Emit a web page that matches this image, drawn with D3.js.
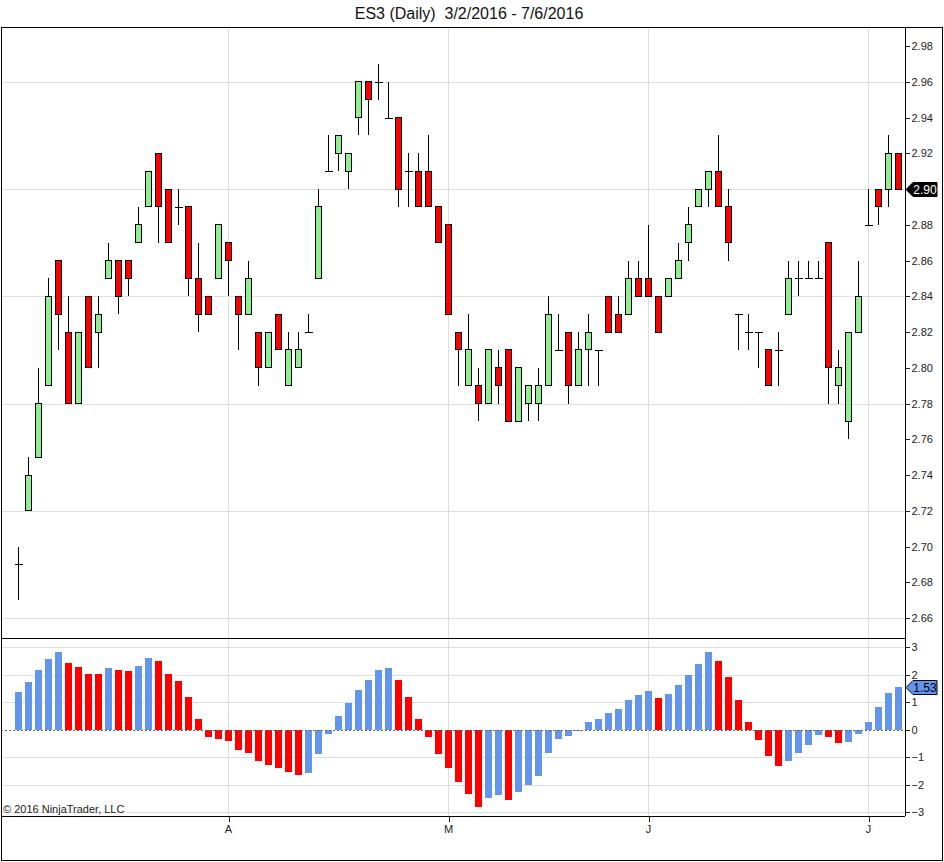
<!DOCTYPE html>
<html>
<head>
<meta charset="utf-8">
<script src="https://cdn.jsdelivr.net/npm/d3@7"></script>
<style>
  body { margin: 0; background: #fff; }
  svg { display: block; font-family: Arial, "Liberation Sans", sans-serif; }
</style>
</head>
<body>
<div id="chart"></div>
<script>
// daily candles, 3/2/2016 - 7/6/2016
const opens = [
  2.69, 2.72, 2.75, 2.79, 2.86, 2.82, 2.78, 2.84, 2.82, 2.85,
  2.86, 2.86, 2.87, 2.89, 2.92, 2.90, 2.89, 2.89, 2.85, 2.84,
  2.85, 2.87, 2.84, 2.83, 2.82, 2.80, 2.83, 2.79, 2.80, 2.82,
  2.85, 2.91, 2.92, 2.91, 2.94, 2.96, 2.96, 2.94, 2.94, 2.91,
  2.91, 2.91, 2.89, 2.88, 2.82, 2.79, 2.79, 2.78, 2.80, 2.81,
  2.77, 2.78, 2.78, 2.79, 2.81, 2.82, 2.79, 2.81, 2.81, 2.84,
  2.83, 2.83, 2.85, 2.85, 2.84, 2.84, 2.85, 2.87, 2.89, 2.90,
  2.91, 2.89, 2.83, 2.82, 2.82, 2.81, 2.81, 2.83, 2.85, 2.85,
  2.85, 2.87, 2.79, 2.77, 2.82, 2.88, 2.90, 2.90, 2.92
]
const highs = [
  2.70, 2.75, 2.80, 2.85, 2.86, 2.84, 2.82, 2.84, 2.84, 2.87,
  2.86, 2.86, 2.89, 2.91, 2.92, 2.90, 2.90, 2.89, 2.87, 2.84,
  2.88, 2.87, 2.84, 2.86, 2.82, 2.82, 2.83, 2.82, 2.82, 2.83,
  2.90, 2.93, 2.93, 2.92, 2.96, 2.96, 2.97, 2.96, 2.94, 2.92,
  2.92, 2.93, 2.89, 2.88, 2.82, 2.83, 2.80, 2.81, 2.81, 2.81,
  2.80, 2.79, 2.80, 2.84, 2.83, 2.82, 2.82, 2.83, 2.81, 2.84,
  2.84, 2.86, 2.86, 2.88, 2.84, 2.85, 2.87, 2.89, 2.90, 2.91,
  2.93, 2.90, 2.83, 2.83, 2.82, 2.81, 2.82, 2.86, 2.86, 2.86,
  2.86, 2.87, 2.81, 2.82, 2.86, 2.90, 2.90, 2.93, 2.92
]
const lows = [
  2.67, 2.72, 2.75, 2.79, 2.81, 2.78, 2.78, 2.80, 2.80, 2.85,
  2.83, 2.84, 2.87, 2.89, 2.87, 2.87, 2.88, 2.84, 2.82, 2.83,
  2.85, 2.84, 2.81, 2.83, 2.79, 2.80, 2.81, 2.79, 2.80, 2.82,
  2.85, 2.91, 2.91, 2.90, 2.93, 2.93, 2.95, 2.94, 2.89, 2.89,
  2.89, 2.89, 2.87, 2.83, 2.79, 2.79, 2.77, 2.78, 2.78, 2.77,
  2.77, 2.77, 2.77, 2.79, 2.81, 2.78, 2.79, 2.79, 2.79, 2.82,
  2.82, 2.83, 2.84, 2.84, 2.82, 2.84, 2.85, 2.86, 2.89, 2.89,
  2.89, 2.86, 2.81, 2.81, 2.80, 2.79, 2.79, 2.83, 2.84, 2.85,
  2.85, 2.78, 2.78, 2.76, 2.82, 2.88, 2.88, 2.89, 2.90
]
const closes = [
  2.69, 2.74, 2.78, 2.84, 2.83, 2.78, 2.82, 2.80, 2.83, 2.86,
  2.84, 2.85, 2.88, 2.91, 2.89, 2.87, 2.89, 2.85, 2.83, 2.83,
  2.88, 2.86, 2.83, 2.85, 2.80, 2.82, 2.81, 2.81, 2.81, 2.82,
  2.89, 2.91, 2.93, 2.92, 2.96, 2.95, 2.96, 2.94, 2.90, 2.91,
  2.89, 2.89, 2.87, 2.83, 2.81, 2.81, 2.78, 2.81, 2.79, 2.77,
  2.80, 2.79, 2.79, 2.83, 2.81, 2.79, 2.81, 2.82, 2.81, 2.82,
  2.82, 2.85, 2.84, 2.84, 2.82, 2.85, 2.86, 2.88, 2.90, 2.91,
  2.89, 2.87, 2.83, 2.82, 2.82, 2.79, 2.81, 2.85, 2.85, 2.85,
  2.85, 2.80, 2.80, 2.82, 2.84, 2.88, 2.89, 2.92, 2.90
]

// oscillator histogram (lower panel)
const osc = [
  1.36, 1.73, 2.17, 2.57, 2.83, 2.42, 2.28, 2.03, 2.01, 2.24,
  2.17, 2.13, 2.31, 2.61, 2.50, 2.02, 1.76, 1.18, 0.40, -0.26,
  -0.33, -0.40, -0.73, -0.84, -1.14, -1.29, -1.40, -1.54, -1.65, -1.58,
  -0.88, -0.18, 0.48, 0.95, 1.43, 1.80, 2.17, 2.24, 1.80, 1.18,
  0.40, -0.26, -0.88, -1.40, -1.91, -2.35, -2.82, -2.48, -2.37, -2.56,
  -2.26, -2.02, -1.68, -0.87, -0.35, -0.24, -0.05, 0.26, 0.40, 0.59,
  0.73, 1.06, 1.25, 1.40, 1.14, 1.29, 1.62, 1.98, 2.39, 2.83,
  2.50, 1.91, 1.06, 0.29, -0.39, -0.98, -1.31, -1.13, -0.87, -0.58,
  -0.21, -0.28, -0.48, -0.45, -0.17, 0.29, 0.81, 1.32, 1.53
]

// axis labels
const monthLabels = ['A', 'M', 'J', 'J']
const monthStarts = [21, 43, 63, 85]   // bar index of first session in month
const priceTicks = [2.66, 2.68, 2.70, 2.72, 2.74, 2.76, 2.78, 2.80, 2.82,
  2.84, 2.86, 2.88, 2.90, 2.92, 2.94, 2.96, 2.98]
const priceGrid = [2.66, 2.72, 2.78, 2.84, 2.90, 2.96]
const oscTicks = [-3, -2, -1, 0, 1, 2, 3]

const title = 'ES3 (Daily)  3/2/2016 - 7/6/2016'
const copyright = '\u00a9 2016 NinjaTrader, LLC'

// layout
let outerWidth = 944
let outerHeight = 862
let frame = {left: 1, top: 27, right: 943, bottom: 861}
let plotRight = 905
let pricePane = {top: 27, bottom: 638}
let oscPane = {top: 638, bottom: 816}
let fontSize = 11
let upColor = '#90ee90'
let downColor = '#ff0000'
let oscUp = '#6495ed'
let gridColor = '#dedede'
let fmt = d3.format('.2f')

let svg = d3.select('#chart')
  .append('svg')
  .attr('width', outerWidth)
  .attr('height', outerHeight)

// scales
let xs = d3.scaleLinear()
  .domain([0, closes.length - 1])
  .range([18, 898])
let ys = d3.scaleLinear()
  .domain([2.66, 2.98])
  .range([618, 46])
let os = d3.scaleLinear()
  .domain([-3, 3])
  .range([812, 647])

// title
svg.append('text')
  .attr('x', 469)
  .attr('y', 18.5)
  .attr('text-anchor', 'middle')
  .style('font-size', '16px')
  .style('white-space', 'pre')
  .attr('fill', '#111')
  .text(title)

// grid
let grid = svg.append('g').attr('shape-rendering', 'crispEdges')
grid.selectAll('.vgrid')
  .data(monthStarts)
  .enter()
  .append('line')
  .attr('x1', (d) => Math.round(xs(d)) + 0.5)
  .attr('x2', (d) => Math.round(xs(d)) + 0.5)
  .attr('y1', pricePane.top)
  .attr('y2', oscPane.bottom)
  .attr('stroke', gridColor)
grid.selectAll('.pgrid')
  .data(priceGrid)
  .enter()
  .append('line')
  .attr('x1', frame.left)
  .attr('x2', plotRight)
  .attr('y1', (d) => Math.round(ys(d)) + 0.5)
  .attr('y2', (d) => Math.round(ys(d)) + 0.5)
  .attr('stroke', gridColor)
grid.selectAll('.ogrid')
  .data(oscTicks.filter((d) => d !== 0))
  .enter()
  .append('line')
  .attr('x1', frame.left)
  .attr('x2', plotRight)
  .attr('y1', (d) => Math.round(os(d)) + 0.5)
  .attr('y2', (d) => Math.round(os(d)) + 0.5)
  .attr('stroke', gridColor)

// candles
let candles = svg.append('g').attr('shape-rendering', 'crispEdges')
let idx = d3.range(closes.length)
candles.selectAll('.wick')
  .data(idx)
  .enter()
  .append('line')
  .attr('x1', (i) => Math.round(xs(i)) + 0.5)
  .attr('x2', (i) => Math.round(xs(i)) + 0.5)
  .attr('y1', (i) => ys(highs[i]))
  .attr('y2', (i) => ys(lows[i]))
  .attr('stroke', '#000')
candles.selectAll('.body')
  .data(idx.filter((i) => opens[i] !== closes[i]))
  .enter()
  .append('rect')
  .attr('x', (i) => Math.round(xs(i)) - 3 + 0.5)
  .attr('y', (i) => ys(Math.max(opens[i], closes[i])))
  .attr('width', 6)
  .attr('height', (i) => Math.abs(ys(opens[i]) - ys(closes[i])))
  .attr('fill', (i) => closes[i] > opens[i] ? upColor : downColor)
  .attr('stroke', '#000')
candles.selectAll('.doji')
  .data(idx.filter((i) => opens[i] === closes[i]))
  .enter()
  .append('line')
  .attr('x1', (i) => Math.round(xs(i)) - 3.5)
  .attr('x2', (i) => Math.round(xs(i)) + 4.5)
  .attr('y1', (i) => Math.round(ys(closes[i])) + 0.5)
  .attr('y2', (i) => Math.round(ys(closes[i])) + 0.5)
  .attr('stroke', '#000')

// oscillator bars, blue when rising, red when falling
let bars = svg.append('g').attr('shape-rendering', 'crispEdges')
bars.selectAll('rect')
  .data(osc)
  .enter()
  .append('rect')
  .attr('x', (d, i) => Math.round(xs(i)) - 3)
  .attr('y', (d) => os(Math.max(d, 0)))
  .attr('width', 7)
  .attr('height', (d) => Math.abs(os(d) - os(0)))
  .attr('fill', (d, i) => (i === 0 || d >= osc[i - 1]) ? oscUp : downColor)

// zero line
svg.append('line')
  .attr('x1', frame.left)
  .attr('x2', plotRight)
  .attr('y1', Math.round(os(0)) + 0.5)
  .attr('y2', Math.round(os(0)) + 0.5)
  .attr('stroke', '#666')
  .attr('stroke-dasharray', '2 2')
  .attr('shape-rendering', 'crispEdges')

let lastClose = closes[closes.length - 1]
let lastOsc = osc[osc.length - 1]

// axes; the price label under the last-close marker is left out
let priceAxis = svg.append('g')
  .attr('transform', `translate(${plotRight + 0.5},0)`)
  .call(d3.axisRight(ys).tickValues(priceTicks).tickSize(4).tickPadding(2)
    .tickFormat((d) => fmt(d) === fmt(lastClose) ? '' : fmt(d)))
let oscAxis = svg.append('g')
  .attr('transform', `translate(${plotRight + 0.5},0)`)
  .call(d3.axisRight(os).tickValues(oscTicks).tickSize(4).tickPadding(2)
    .tickFormat(d3.format('d')))
let timeAxis = svg.append('g')
  .attr('transform', `translate(0,${oscPane.bottom + 0.5})`)
  .call(d3.axisBottom(xs).tickValues(monthStarts).tickSize(5).tickPadding(4)
    .tickFormat((d, i) => monthLabels[i]))
for (let ax of [priceAxis, oscAxis, timeAxis]) {
  ax.select('.domain').remove()
  ax.attr('font-family', null)
    .attr('font-size', fontSize)
  ax.selectAll('text').attr('fill', '#222')
  ax.selectAll('line').attr('stroke', '#222').attr('shape-rendering', 'crispEdges')
}
timeAxis.selectAll('.tick line').attr('transform', 'translate(0.5,0)')

// pane borders
let borders = svg.append('g')
  .attr('stroke', '#000')
  .attr('fill', 'none')
  .attr('shape-rendering', 'crispEdges')
borders.append('rect')
  .attr('x', frame.left + 0.5)
  .attr('y', frame.top + 0.5)
  .attr('width', frame.right - frame.left - 1)
  .attr('height', frame.bottom - frame.top - 1)
borders.append('line')
  .attr('x1', plotRight + 0.5).attr('x2', plotRight + 0.5)
  .attr('y1', frame.top).attr('y2', oscPane.bottom)
borders.append('line')
  .attr('x1', frame.left).attr('x2', plotRight)
  .attr('y1', oscPane.top + 0.5).attr('y2', oscPane.top + 0.5)
borders.append('line')
  .attr('x1', frame.left).attr('x2', plotRight)
  .attr('y1', oscPane.bottom + 0.5).attr('y2', oscPane.bottom + 0.5)

// last value markers on the axis
function marker (y, label, fill, stroke, textColor) {
  let g = svg.append('g')
  let x0 = plotRight + 1
  g.append('path')
    .attr('d', `M${x0},${y}L${x0 + 7},${y - 7}H${x0 + 31}V${y + 7}H${x0 + 7}Z`)
    .attr('fill', fill)
    .attr('stroke', stroke)
  g.append('text')
    .attr('x', x0 + 19)
    .attr('y', y + 4)
    .attr('text-anchor', 'middle')
    .style('font-size', '12px')
    .attr('fill', textColor)
    .text(label)
}
marker(Math.round(ys(lastClose)) + 0.5, fmt(lastClose), '#000', '#000', '#fff')
marker(Math.round(os(lastOsc)) + 0.5, fmt(lastOsc), oscUp, '#000', '#000')

// copyright
svg.append('text')
  .attr('x', 3)
  .attr('y', 813)
  .style('font-size', '11px')
  .attr('fill', '#222')
  .text(copyright)
</script>
</body>
</html>
